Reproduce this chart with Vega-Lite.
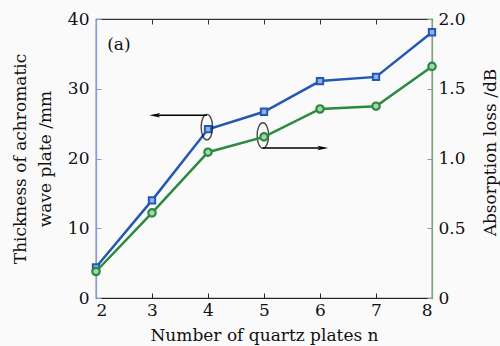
{
  "$schema": "https://vega.github.io/schema/vega-lite/v6.json",
  "width": 336,
  "height": 279,
  "autosize": {"type": "none"},
  "padding": {"left": 96, "top": 19, "right": 68, "bottom": 48},
  "background": "#fafafa",
  "config": {
    "font": "DejaVu Serif",
    "view": {"stroke": "#444444", "strokeWidth": 1.2},
    "axis": {
      "labelFont": "DejaVu Serif",
      "titleFont": "DejaVu Serif",
      "labelFontSize": 17,
      "titleFontSize": 17,
      "labelColor": "#111111",
      "titleColor": "#111111",
      "titleFontWeight": "normal",
      "grid": false,
      "tickSize": -5,
      "tickWidth": 1,
      "domainWidth": 1.2
    }
  },
  "datasets": {
    "thick": [
      {"n": 2, "v": 4.4}, {"n": 3, "v": 14.0}, {"n": 4, "v": 24.2},
      {"n": 5, "v": 26.7}, {"n": 6, "v": 31.1}, {"n": 7, "v": 31.7}, {"n": 8, "v": 38.1}
    ],
    "loss": [
      {"n": 2, "dB": 0.19}, {"n": 3, "dB": 0.61}, {"n": 4, "dB": 1.045},
      {"n": 5, "dB": 1.155}, {"n": 6, "dB": 1.355}, {"n": 7, "dB": 1.375}, {"n": 8, "dB": 1.66}
    ],
    "ellipses": [{"n": 3.98, "v": 24.5}, {"n": 4.98, "v": 23.3}],
    "arrows": [{"n": 3.98, "n2": 3.1, "v": 26.2}, {"n": 4.98, "n2": 6.0, "v": 21.5}],
    "headL": [{"n": 3.05, "v": 26.2}],
    "headR": [{"n": 6.05, "v": 21.5}],
    "label": [{"n": 2.2, "v": 36.3, "t": "(a)"}]
  },
  "layer": [
    {
      "layer": [
        {
          "data": {"name": "thick"},
          "mark": {"type": "line", "color": "#2458b3", "strokeWidth": 2.5},
          "encoding": {
            "x": {"field": "n", "type": "quantitative",
              "scale": {"domain": [2, 8], "nice": false},
              "axis": {"values": [2, 3, 4, 5, 6, 7, 8], "format": "d", "title": "Number of quartz plates n", "labelPadding": 9, "titlePadding": 9, "domainColor": "#222222", "tickColor": "#222222"}},
            "y": {"field": "v", "type": "quantitative",
              "scale": {"domain": [0, 40], "nice": false},
              "axis": {"values": [0, 10, 20, 30, 40], "format": "d", "title": ["Thickness of achromatic", "wave plate /mm"], "labelPadding": 12, "titlePadding": 13, "domainColor": "#7f9de0", "tickColor": "#7f9de0", "titleLineHeight": 25}}
          }
        },
        {
          "data": {"name": "thick"},
          "mark": {"type": "point", "shape": "square", "filled": false, "color": "#2458b3", "strokeWidth": 2, "size": 40, "fill": "#8fb0e8", "fillOpacity": 1},
          "encoding": {
            "x": {"field": "n", "type": "quantitative"},
            "y": {"field": "v", "type": "quantitative"}
          }
        },
        {
          "data": {"name": "ellipses"},
          "mark": {"type": "point", "shape": "M0,-1A0.45,1 0 1 1 0,1A0.45,1 0 1 1 0,-1Z", "filled": false, "color": "#000000", "strokeWidth": 1.4, "size": 650},
          "encoding": {
            "x": {"field": "n", "type": "quantitative"},
            "y": {"field": "v", "type": "quantitative"}
          }
        },
        {
          "data": {"name": "arrows"},
          "mark": {"type": "rule", "color": "#000000", "strokeWidth": 1.4},
          "encoding": {
            "x": {"field": "n", "type": "quantitative"},
            "x2": {"field": "n2"},
            "y": {"field": "v", "type": "quantitative"}
          }
        },
        {
          "data": {"name": "headL"},
          "mark": {"type": "point", "shape": "M-1,0L1,-0.4L0.5,0L1,0.4Z", "filled": true, "color": "#000000", "size": 120, "opacity": 1},
          "encoding": {
            "x": {"field": "n", "type": "quantitative"},
            "y": {"field": "v", "type": "quantitative"}
          }
        },
        {
          "data": {"name": "headR"},
          "mark": {"type": "point", "shape": "M1,0L-1,-0.4L-0.5,0L-1,0.4Z", "filled": true, "color": "#000000", "size": 120, "opacity": 1},
          "encoding": {
            "x": {"field": "n", "type": "quantitative"},
            "y": {"field": "v", "type": "quantitative"}
          }
        },
        {
          "data": {"name": "label"},
          "mark": {"type": "text", "align": "left", "baseline": "middle", "fontSize": 17, "font": "DejaVu Serif", "color": "#111111"},
          "encoding": {
            "x": {"field": "n", "type": "quantitative"},
            "y": {"field": "v", "type": "quantitative"},
            "text": {"field": "t"}
          }
        }
      ]
    },
    {
      "layer": [
        {
          "data": {"name": "loss"},
          "mark": {"type": "line", "color": "#2a8a3e", "strokeWidth": 2.5},
          "encoding": {
            "x": {"field": "n", "type": "quantitative",
              "axis": {"orient": "top", "values": [2, 3, 4, 5, 6, 7, 8], "labels": false, "title": null, "domainColor": "#333333", "tickColor": "#333333"}},
            "y": {"field": "dB", "type": "quantitative",
              "scale": {"domain": [0, 2], "nice": false},
              "axis": {"orient": "right", "values": [0, 0.5, 1, 1.5, 2], "labelExpr": "datum.value == 0 ? '0' : format(datum.value, '.1f')", "title": "Absorption loss /dB", "titleAngle": 270, "titleX": 58, "titleY": 133, "titleAlign": "center", "titleBaseline": "middle", "labelPadding": 11, "domainColor": "#7aa77a", "tickColor": "#7aa77a"}}
          }
        },
        {
          "data": {"name": "loss"},
          "mark": {"type": "point", "shape": "circle", "filled": false, "color": "#2a8a3e", "strokeWidth": 2.2, "size": 55, "fill": "#a8d4b0", "fillOpacity": 1},
          "encoding": {
            "x": {"field": "n", "type": "quantitative"},
            "y": {"field": "dB", "type": "quantitative"}
          }
        }
      ]
    }
  ],
  "resolve": {"scale": {"y": "independent"}, "axis": {"x": "independent"}}
}
